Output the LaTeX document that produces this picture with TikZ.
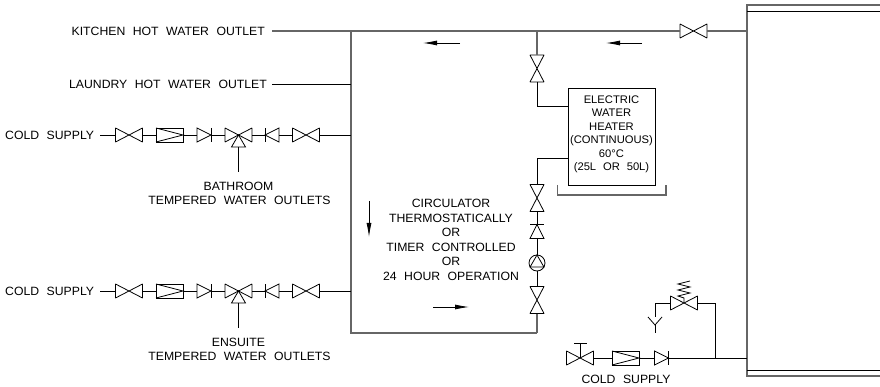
\documentclass[tikz,border=0pt]{standalone}
\usepackage{fontspec}
\setmainfont[WordSpace=2.2,FakeStretch=1.02]{Liberation Sans}
\usetikzlibrary{arrows.meta,calc}
\tikzset{
	x=1pt, y=-1pt,
	pipe/.style={line width=0.8pt, black},
	main/.style={line width=1.3pt, black!60},
	flow/.style={line width=0.8pt, -{Latex[length=14pt,width=5pt]}},
	symbol/.style={inner sep=0pt, outer sep=0pt},
	lbl/.style={inner sep=0pt, align=center, font=\fontsize{12}{14}\selectfont},
	boxlbl/.style={inner sep=0pt, align=center, font=\fontsize{11}{14}\selectfont},
}
\def\gatevalve[#1](#2)(#3){
	\node[symbol,minimum width=27pt,minimum height=14pt,rotate=#1] (#2) at (#3) {};
	\draw[pipe,line join=bevel] (#2.south west) -- (#2.north east) -- (#2.south east) -- (#2.north west) -- cycle;
}
\def\checkvalve[#1](#2)(#3){
	\node[symbol,minimum width=14pt,minimum height=14pt,rotate=#1] (#2) at (#3) {};
	\draw[pipe] (#2.north west) -- (#2.east) -- (#2.south west) -- cycle;
	\draw[pipe] (#2.north east) -- (#2.south east);
}
\def\strainer(#1)(#2){
	\node[symbol,draw,line width=0.8pt,minimum width=27pt,minimum height=14pt] (#1) at (#2) {};
	\draw[pipe] (#1.north west) -- (#1.east) -- (#1.south west);
}
\def\coldrow(#1)(#2)(#3){
	\node[lbl,anchor=west] (#1label) at (5,#2) {COLD SUPPLY};
	\gatevalve[0](#1iso)(129,#2)
	\strainer(#1str)(169.5,#2)
	\checkvalve[0](#1chk)(204,#2)
	\gatevalve[0](#1mix)(238.5,#2)
	\coordinate (#1base) at (238.5,#2+12);
	\coordinate (#1stem) at (238.5,#2+37);
	\draw[pipe] (#1mix.center) -- ($(#1base)+(-7,0)$) -- ($(#1base)+(7,0)$) -- cycle;
	\draw[pipe] (#1base) -- (#1stem);
	\checkvalve[180](#1ret)(272,#2)
	\gatevalve[0](#1out)(306,#2)
	\coordinate (#1tee) at (351,#2);
	\draw[pipe] (#1label.east) ++(6,0) -- (#1iso.west);
	\draw[pipe] (#1iso.east) -- (#1str.west);
	\draw[pipe] (#1str.east) -- (#1chk.west);
	\draw[pipe] (#1chk.east) -- (#1mix.west);
	\draw[pipe] (#1mix.east) -- (#1ret.east);
	\draw[pipe] (#1ret.west) -- (#1out.west);
	\draw[pipe] (#1out.east) -- (#1tee);
	\node[lbl,anchor=center] at (238.5,#2+51) {#3};
	\node[lbl,anchor=center] at (239.5,#2+65) {TEMPERED WATER OUTLETS};
}

\begin{document}
\begin{tikzpicture}
	\useasboundingbox (0,0) rectangle (880,387);

	% hot water ring
	\coordinate (tankhot) at (747,31);
	\coordinate (ringtl) at (351,31);
	\coordinate (ringbl) at (351,333);
	\coordinate (ringbr) at (537,333);
	\coordinate (ringtr) at (537,31);
	\node[lbl,anchor=east] (kitchen) at (265,31) {KITCHEN HOT WATER OUTLET};
	\node[lbl,anchor=east] (laundry) at (267,84) {LAUNDRY HOT WATER OUTLET};
	\coordinate (laundrytee) at (351,84);
	\gatevalve[0](hotvalve)(693.5,31)
	\draw[main] (tankhot) -- (hotvalve.east);
	\draw[main] (hotvalve.west) -- (ringtl);
	\draw[main] (kitchen.east) ++(7,0) -- (ringtl) -- (ringbl) -- (ringbr);
	\draw[pipe] (laundry.east) ++(5,0) -- (laundrytee);

	% heater branch
	\node[symbol,draw,line width=0.8pt,minimum width=87pt,minimum height=97pt] (heater) at (611.5,136.5) {};
	\node[boxlbl] at (611.5,100) {ELECTRIC};
	\node[boxlbl] at (611.5,113) {WATER};
	\node[boxlbl] at (611.5,127) {HEATER};
	\node[boxlbl] at (611.5,141) {(CONTINUOUS)};
	\node[boxlbl] at (611.5,154) {60°C};
	\node[boxlbl] at (611.5,168) {(25L OR 50L)};
	\gatevalve[90](topvalve)(537,68.5)
	\coordinate (heaterin) at (568,106);
	\coordinate (heaterout) at (568,158);
	\draw[main] (ringtr) -- (topvalve.east);
	\draw[pipe] (topvalve.west) |- (heaterin);
	\draw[pipe] (heaterout) -| (537,185);
	\draw[main] (557.5,185) -- (557.5,195) -- (666,195) -- (666,185);

	% circulator
	\gatevalve[90](upvalve)(537,198)
	\checkvalve[90](upcheck)(537,231.5)
	\node[symbol,draw,line width=0.8pt,circle,minimum size=16pt] (pump) at (537,263) {};
	\draw[pipe] (pump.90) -- (pump.210) -- (pump.330) -- cycle;
	\gatevalve[90](lowvalve)(537,300)
	\draw[pipe] (upvalve.west) -- (upcheck.east);
	\draw[pipe] (upcheck.west) -- (pump.north);
	\draw[pipe] (pump.south) -- (lowvalve.east);
	\draw[main] (lowvalve.west) -- (ringbr);

	\node[lbl] (note1) at (451,203) {CIRCULATOR};
	\node[lbl] (note2) at (451,218) {THERMOSTATICALLY};
	\node[lbl] (note3) at (451,232) {OR};
	\node[lbl] (note4) at (451,247) {TIMER CONTROLLED};
	\node[lbl] (note5) at (451,261) {OR};
	\node[lbl] (note6) at (451,276) {24 HOUR OPERATION};

	% flow direction
	\draw[flow] (460,43) -- (423,43);
	\draw[flow] (642,43) -- (606,43);
	\draw[flow] (369,201) -- (369,237);
	\draw[flow] (433,307) -- (469,307);

	% tempering valve rows
	\coldrow(bath)(135)(BATHROOM)
	\coldrow(suite)(291)(ENSUITE)

	% tank
	\draw[main] (880,5) -- (747,5) -- (747,376) -- (880,376);
	\draw[pipe] (747,11) -- (880,11);
	\draw[pipe] (747,370) -- (880,370);

	% tank cold inlet
	\coordinate (inletstart) at (566,358);
	\coordinate (tankcold) at (747,358);
	\coordinate (relieftee) at (715,358);
	\gatevalve[0](inletvalve)(580,358)
	\draw[pipe] (inletvalve.center) -- (580,343);
	\draw[pipe] (574,343) -- (587,343);
	\strainer(inletstr)(625.5,358)
	\checkvalve[0](inletchk)(661.5,358)
	\draw[pipe] (inletstart) -- (inletvalve.west);
	\draw[pipe] (inletvalve.east) -- (inletstr.west);
	\draw[pipe] (inletstr.east) -- (inletchk.west);
	\draw[pipe] (inletchk.east) -- (tankcold);
	\node[lbl] (inletlabel) at (626,379) {COLD SUPPLY};

	% relief valve and drain
	\gatevalve[0](relief)(684,303)
	\draw[pipe] (relieftee) |- (relief.east);
	\draw[pipe] (relief.west) -| (655,317);
	\draw[pipe] (684,303) -- (684,298) -- (678,296) -- (690,293) -- (678,290) -- (690,287) -- (678,284) -- (690,281);
	\draw[pipe] (648,317) -- (655,325) -- (662,317);
	\draw[pipe] (655,325) -- (655,333);
\end{tikzpicture}
\end{document}
